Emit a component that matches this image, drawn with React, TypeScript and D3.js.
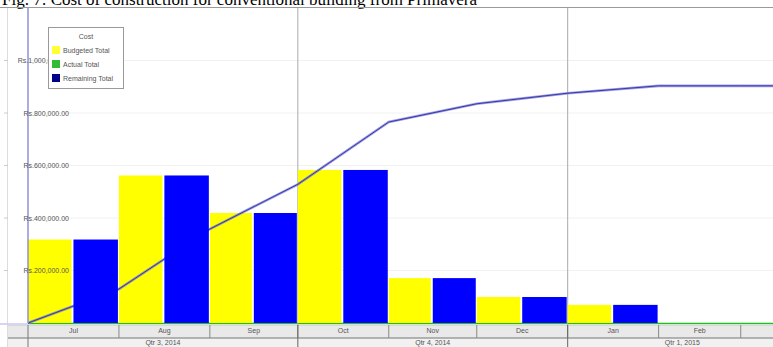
import React from "react";
import * as d3 from "d3";

// month categories (start dates) and cost series
const months = ["Jul", "Aug", "Sep", "Oct", "Nov", "Dec", "Jan", "Feb", ""];
const monthStarts = [
  "2014-07-01", "2014-08-01", "2014-09-01", "2014-10-01", "2014-11-01",
  "2014-12-01", "2015-01-01", "2015-02-01", "2015-03-01",
];
const budgetedTotal = [318000, 562000, 419000, 583000, 171000, 99000, 69000, 0];
const actualTotal = [0, 0, 0, 0, 0, 0, 0, 0];
const remainingTotal = [318000, 562000, 419000, 583000, 171000, 99000, 69000, 0];

const quarters = ["Qtr 3, 2014", "Qtr 4, 2014", "Qtr 1, 2015"];
const quarterStarts = ["2014-07-01", "2014-10-01", "2015-01-01", "2015-04-01"];

const yTicks = [200000, 400000, 600000, 800000, 1000000];
const legendItems = ["Budgeted Total", "Actual Total", "Remaining Total"];

const W = 773;
const H = 347;
const title = "Fig. 7: Cost of construction for conventional building from Primavera";

export default function App() {
  const parse = (s: string) => new Date(s + "T00:00:00Z");
  const left = 28, right = W, top = 8, base = 323;

  const x = d3.scaleUtc()
    .domain([parse("2014-07-01"), parse("2015-03-12")])
    .range([left, right]);
  const y = d3.scaleLinear().domain([0, 1200000]).range([base, top]);
  // cumulative curve uses its own (hidden) axis
  const yCum = d3.scaleLinear().domain([0, 2950000]).range([base, top]);

  const colors = ["#ffff00", "#22bb22", "#0000ff"];
  const legendColors = ["#ffff33", "#33bb33", "#000088"];
  const fmt = d3.format(",.2f");

  const cum = Array.from(d3.cumsum(budgetedTotal));
  const cumPts: [number, number][] = [[x(parse(monthStarts[0])), yCum(0)]];
  cum.forEach((v, i) => cumPts.push([x(parse(monthStarts[i + 1])), yCum(v)]));
  cumPts.push([right, yCum(cum[cum.length - 1])]);
  const line = d3.line();

  const slot = (i: number) => {
    const x0 = x(parse(monthStarts[i]));
    const x1 = x(parse(monthStarts[i + 1]));
    return [x0, x1];
  };

  const rowTop = 325, rowMid = 338;

  return (
    <svg width={W} height={H} style={{ position: "absolute", left: 0, top: 0, background: "#fff" }}
      fontFamily="'Liberation Sans', Arial, sans-serif">
      <text x={2} y={5} fontFamily="'Liberation Serif', 'Times New Roman', serif" fontSize={17} fill="#000">{title}</text>
      <line x1={0} x2={W} y1={top - 0.5} y2={top - 0.5} stroke="#999" />
      <line x1={7.5} x2={7.5} y1={top} y2={H} stroke="#ddd" />

      {yTicks.map((t) => (
        <g key={t}>
          <line x1={left} x2={right} y1={y(t)} y2={y(t)} stroke="#f1f1f1" />
          <line x1={4} x2={8} y1={y(t)} y2={y(t)} stroke="#ccc" />
        </g>
      ))}

      <line x1={0} x2={left} y1={base + 1} y2={base + 1} stroke="#c8c8ee" strokeWidth={1.5} />
      <line x1={left} x2={right} y1={base + 0.5} y2={base + 0.5} stroke={colors[1]} strokeWidth={1.5} />

      {quarterStarts.slice(1, 3).map((q) => (
        <line key={q} x1={x(parse(q))} x2={x(parse(q))} y1={top} y2={H} stroke="#aaa" />
      ))}

      {budgetedTotal.map((v, i) => {
        const [x0, x1] = slot(i);
        const w = (x1 - x0) / 2;
        return <rect key={"b" + i} x={x0} y={y(v)} width={w - 2} height={base - y(v)} fill={colors[0]} />;
      })}

      <path d={line(cumPts) || ""} fill="none" stroke="#7070e8" strokeWidth={2.6} opacity={0.7} />
      <path d={line(cumPts) || ""} fill="none" stroke="#3a3a9a" strokeWidth={1} />

      {remainingTotal.map((v, i) => {
        const [x0, x1] = slot(i);
        const w = (x1 - x0) / 2;
        return <rect key={"r" + i} x={x0 + w} y={y(v)} width={w - 1} height={base - y(v)} fill={colors[2]} />;
      })}

      <line x1={left} x2={left} y1={top} y2={base} stroke="#9090d8" strokeWidth={1.5} />

      {yTicks.map((t) => (
        <text key={"l" + t} x={69} y={y(t) + 2.5} textAnchor="end" fontSize={7} fill="#555">
          {"Rs." + fmt(t)}
        </text>
      ))}

      <g>
        <rect x={48.5} y={27.5} width={75} height={61} fill="#fff" stroke="#999" />
        <text x={86} y={39} textAnchor="middle" fontSize={7} fill="#555">Cost</text>
        {legendItems.map((s, i) => (
          <g key={s}>
            <rect x={52} y={46 + i * 14} width={8} height={8} fill={legendColors[i]} />
            <text x={63} y={52.5 + i * 14} fontSize={7} fill="#555">{s}</text>
          </g>
        ))}
      </g>

      {/* time axis bands */}
      <rect x={8} y={rowTop} width={W - 8} height={rowMid - rowTop} fill="#e9e9e9" />
      <rect x={8} y={rowMid} width={W - 8} height={H - rowMid} fill="#f1f1f1" />
      <line x1={8} x2={W} y1={rowTop + 0.5} y2={rowTop + 0.5} stroke="#d8d8d8" />
      <line x1={8} x2={W} y1={rowMid} y2={rowMid} stroke="#777" strokeWidth={1.2} />
      <line x1={left} x2={left} y1={rowTop} y2={H} stroke="#777" />
      {monthStarts.map((m, i) => {
        const x0 = x(parse(m));
        const nx = i + 1 < monthStarts.length ? x(parse(monthStarts[i + 1])) : x0;
        return (
          <g key={m}>
            {i > 0 && <line x1={x0} x2={x0} y1={rowTop} y2={rowMid} stroke="#888" />}
            {months[i] && (
              <text x={(x0 + nx) / 2} y={333} textAnchor="middle" fontSize={7} fill="#555">{months[i]}</text>
            )}
          </g>
        );
      })}
      {quarters.map((q, i) => {
        const q0 = x(parse(quarterStarts[i]));
        const q1 = Math.min(x(parse(quarterStarts[i + 1])), right + 24);
        return (
          <g key={q}>
            {i > 0 && <line x1={q0} x2={q0} y1={rowTop} y2={H} stroke="#666" />}
            <text x={(q0 + q1) / 2} y={345} textAnchor="middle" fontSize={7} fill="#555">{q}</text>
          </g>
        );
      })}
    </svg>
  );
}
